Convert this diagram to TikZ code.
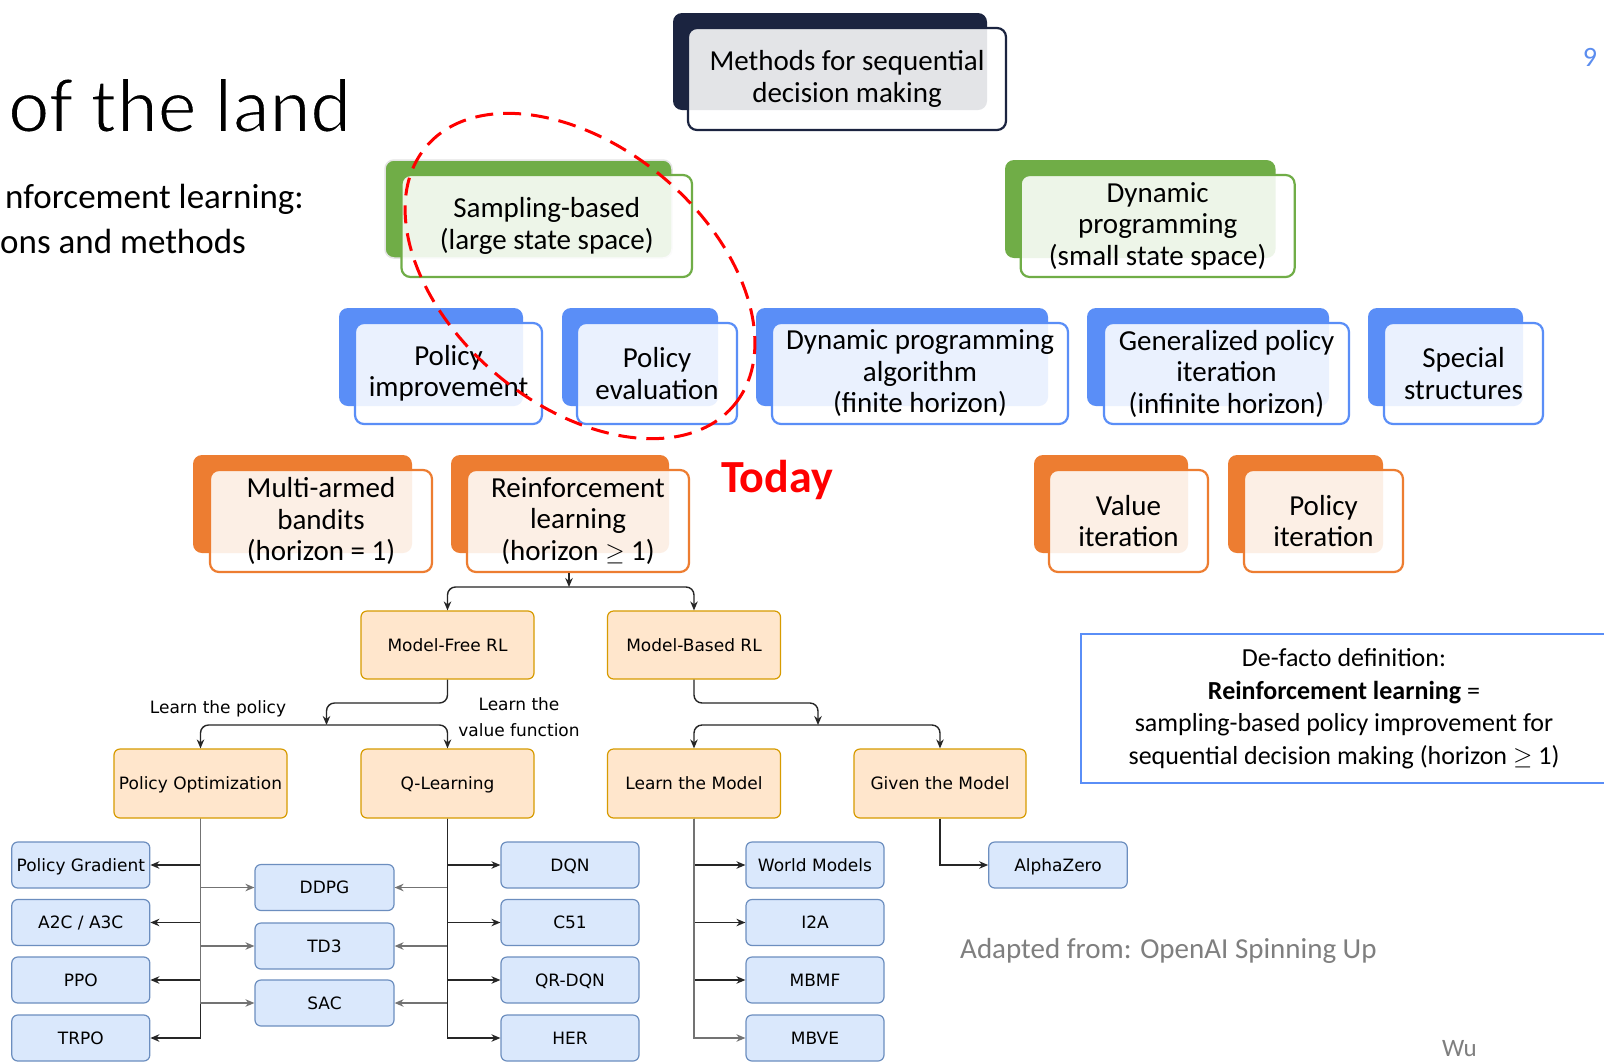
\documentclass[tikz,border=0pt]{standalone}
\usepackage{fontspec}
\setmainfont{Carlito}
\newfontfamily\dio{DejaVu Sans}
\usetikzlibrary{arrows.meta,backgrounds}
\definecolor{navy}{HTML}{1B2440}
\definecolor{sgreen}{HTML}{70AD47}
\definecolor{sblue}{HTML}{5A8EF7}
\definecolor{sorange}{HTML}{ED7D31}
\definecolor{dioOrF}{HTML}{FFE6CC}
\definecolor{dioOrD}{HTML}{D79B00}
\definecolor{dioBlF}{HTML}{DAE8FC}
\definecolor{dioBlD}{HTML}{6C8EBF}
\definecolor{greytxt}{HTML}{7F7F7F}
\definecolor{ninecol}{HTML}{5B8DEF}
\definecolor{todayred}{HTML}{FF0000}
\definecolor{glow}{HTML}{E4E4E4}
\begin{document}
\begin{tikzpicture}[x=1pt,y=-1pt,
  sz/.style 2 args={minimum width=#1pt, minimum height=#2pt},
  back/.style={rectangle, rounded corners=9pt, fill=#1, draw=none, inner sep=0pt},
  front/.style={rectangle, rounded corners=9pt, draw=#1, line width=2.2pt, fill=white,
    fill opacity=0.88, text opacity=1, align=center, inner sep=0pt,
    font=\fontsize{29}{31.5}\selectfont},
  conn/.style={line width=2.2pt, draw=#1},
  dbox/.style={rectangle, rounded corners=6pt, draw=dioOrD, fill=dioOrF, line width=1.2pt,
    minimum width=173pt, minimum height=68pt, inner sep=0pt, text height=12.4pt, text depth=0pt,
    font=\dio\fontsize{17}{20}\selectfont},
  bbox/.style={rectangle, rounded corners=6pt, draw=dioBlD, fill=dioBlF, line width=1.2pt,
    minimum width=138pt, minimum height=46pt, inner sep=0pt, text height=12.4pt, text depth=0pt,
    font=\dio\fontsize{17}{20}\selectfont},
  lbl/.style={inner sep=0pt, align=center, font=\dio\fontsize{17}{26}\selectfont},
  arr/.style={-{Stealth[length=9pt,width=7.5pt]}, line width=1.4pt, draw=black!85, rounded corners=8pt},
  sarr/.style={-{Stealth[length=9pt,width=7.5pt]}, line width=1.4pt, draw=black!85},
  garr/.style={sarr, draw=black!55},
  txt/.style={inner sep=0pt}
]
\useasboundingbox (0,0) rectangle (1604,1061);
\clip (0,0) rectangle (1604,1061);
\fill[white] (0,0) rectangle (1604,1061);

% ---- slide texts ----
\node[txt, anchor=base west, font=\fontsize{78}{90}\selectfont] (title) at (8,132)
  {\special{pdf:literal direct 2 Tr 1.8 w 1 1 1 RG}of the land};
\node[txt, anchor=base east, font=\fontsize{35}{42}\selectfont] (sub1) at (304,208) {nforcement learning:};
\node[txt, anchor=base west, font=\fontsize{35}{42}\selectfont] (sub2) at (0,253) {ons and methods};
\node[txt, text=ninecol, font=\fontsize{28}{32}\selectfont] (nine) at (1590,57) {9};

% ---- SmartArt hierarchy ----
\node[back=navy, sz={314}{97}] (topB) at (830,61.5) {};
\node[front=navy, sz={318}{102}] (topF) at (847,79) {Methods for sequential\\decision making};

\node[back=sgreen, sz={287}{98}, draw=glow, line width=1.5pt] (sbB) at (528.5,209) {};
\node[front=sgreen, sz={290.5}{102}] (sbF) at (546.75,226) {Sampling-based\\(large state space)};
\node[back=sgreen, sz={270.5}{98}] (dpB) at (1140.25,209) {};
\node[front=sgreen, sz={274}{102}] (dpF) at (1157.65,226) {Dynamic\\programming\\(small state space)};

\node[back=sblue, sz={184}{98}] (piB) at (431,357) {};
\node[front=sblue, sz={187}{101}] (piF) at (448.5,373.5) {Policy\\improvement};
\node[back=sblue, sz={156}{98}] (peB) at (640,357) {};
\node[front=sblue, sz={160}{101}] (peF) at (657,373.5) {Policy\\evaluation};
\node[back=sblue, sz={292}{98}] (daB) at (902,357) {};
\node[front=sblue, sz={296}{101}] (daF) at (920,373.5) {Dynamic programming\\algorithm\\(finite horizon)};
\node[back=sblue, sz={242}{98}] (gpB) at (1208,357) {};
\node[front=sblue, sz={245}{101}] (gpF) at (1226.5,373.5) {Generalized policy\\iteration\\(infinite horizon)};
\node[back=sblue, sz={155}{98}] (ssB) at (1445.5,357) {};
\node[front=sblue, sz={159}{101}] (ssF) at (1463.5,373.5) {Special\\structures};

\node[back=sorange, sz={219}{98}] (mbB) at (302.5,504) {};
\node[front=sorange, sz={222}{102}] (mbF) at (321,521) {Multi-armed\\bandits\\(horizon = 1)};
\node[back=sorange, sz={218}{98}] (rlB) at (560,504) {};
\node[front=sorange, sz={222}{102}] (rlF) at (578,521) {Reinforcement\\learning\\(horizon $\geq$ 1)};
\node[back=sorange, sz={154}{98}] (viB) at (1111,504) {};
\node[front=sorange, sz={159}{102}] (viF) at (1128.5,521) {Value\\iteration};
\node[back=sorange, sz={155}{98}] (ptB) at (1305.5,504) {};
\node[front=sorange, sz={159}{102}] (ptF) at (1323.5,521) {Policy\\iteration};

\node[txt, anchor=base, text=todayred, font=\bfseries\fontsize{46}{52}\selectfont] (today) at (777,492) {Today};

\draw[todayred, line width=3pt, dash pattern=on 18pt off 10pt, rotate around={-40:(580,276)}]
  (580,276) ellipse [x radius=201pt, y radius=129pt];

\begin{pgfonlayer}{background}
\coordinate (jG) at (830,143);
\draw[conn=sgreen] (topB.south) -- (jG);
\draw[conn=sgreen] (sbB.north) -- (sbB.north |- jG) -| (dpB.north);
\coordinate (jB1) at (528.5,292);
\draw[conn=sblue] (sbB.south) -- (jB1);
\draw[conn=sblue] (piB.north) -- (piB.north |- jB1) -| (peB.north);
\coordinate (jB2) at (1140.25,292);
\draw[conn=sblue] (dpB.south) -- (jB2);
\draw[conn=sblue] (daB.north) -- (daB.north |- jB2) -| (ssB.north);
\draw[conn=sblue] (gpB.north) -- (gpB.north |- jB2);
\coordinate (jO1) at (431,438);
\draw[conn=sorange] (piB.south) -- (jO1);
\draw[conn=sorange] (mbB.north) -- (mbB.north |- jO1) -| (rlB.north);
\coordinate (jO2) at (1208,438);
\draw[conn=sorange] (gpB.south) -- (jO2);
\draw[conn=sorange] (viB.north) -- (viB.north |- jO2) -| (ptB.north);
\end{pgfonlayer}

% ---- draw.io part ----
\node[dbox] (mf) at (447.5,645) {Model-Free RL};
\node[dbox] (mbr) at (694,645) {Model-Based RL};
\node[dbox, minimum height=69pt] (po) at (200.5,783.5) {Policy Optimization};
\node[dbox, minimum height=69pt] (ql) at (447.5,783.5) {Q-Learning};
\node[dbox, minimum height=69pt] (lm) at (694,783.5) {Learn the Model};
\node[dbox, minimum height=69pt, minimum width=172pt] (gm) at (940,783.5) {Given the Model};

\coordinate (j1) at (569,587);
\draw[sarr] (j1 |- rlF.south) -- (j1);
\draw[arr] (j1) -| (mf.north);
\draw[arr] (j1) -| (mbr.north);

\coordinate (b2) at (326.5,703);
\coordinate (j2) at (326.5,725);
\draw[arr] (mf.south) |- (b2) -- (j2);
\draw[arr] (j2) -| (po.north);
\draw[arr] (j2) -| (ql.north);

\coordinate (b3) at (818,703);
\coordinate (j3) at (818,725);
\draw[arr] (mbr.south) |- (b3) -- (j3);
\draw[arr] (j3) -| (lm.north);
\draw[arr] (j3) -| (gm.north);

\node[lbl] (lp) at (218,709) {Learn the policy};
\node[lbl] (lv) at (519,717) {Learn the\\value function};

\node[bbox] (pg) at (80.8,865) {Policy Gradient};
\node[bbox] (a2c) at (80.8,922.5) {A2C / A3C};
\node[bbox] (ppo) at (80.8,980) {PPO};
\node[bbox] (trpo) at (80.8,1038) {TRPO};
\node[bbox, minimum width=139pt] (ddpg) at (324.5,887.5) {DDPG};
\node[bbox, minimum width=139pt] (td3) at (324.5,946) {TD3};
\node[bbox, minimum width=139pt] (sac) at (324.5,1003) {SAC};
\node[bbox] (dqn) at (570,865) {DQN};
\node[bbox] (c51) at (570,922.5) {C51};
\node[bbox] (qr) at (570,980) {QR-DQN};
\node[bbox] (her) at (570,1038) {HER};
\node[bbox] (wm) at (815,865) {World Models};
\node[bbox] (i2a) at (815,922.5) {I2A};
\node[bbox] (mbmf) at (815,980) {MBMF};
\node[bbox] (mbve) at (815,1038) {MBVE};
\node[bbox, minimum width=138.5pt] (az) at (1058,865) {AlphaZero};

\foreach \t in {pg,a2c,ppo,trpo} \draw[sarr] (po.south) |- (\t.east);
\foreach \t in {ddpg,td3,sac} \draw[garr] (po.south) |- (\t.west);
\foreach \t in {ddpg,td3,sac} \draw[garr] (ql.south) |- (\t.east);
\foreach \t in {dqn,c51,qr,her} \draw[sarr] (ql.south) |- (\t.west);
\foreach \t in {wm,i2a,mbmf} \draw[sarr] (lm.south) |- (\t.west);
\draw[garr] (lm.south) |- (mbve.west);
\draw[sarr] (gm.south) |- (az.west);

% ---- definition box and credits ----
\node[rectangle, draw=sblue, line width=2pt, sz={526}{149}, align=center, inner sep=0pt,
  font=\fontsize{26}{32.5}\selectfont] (defbox) at (1344,708.5)
  {De-facto definition:\\\textbf{Reinforcement learning} =\\sampling-based policy improvement for\\sequential decision making (horizon $\geq$ 1)};
\node[txt, anchor=base west, text=greytxt, font=\fontsize{29}{33}\selectfont] (adapt) at (960,958) {Adapted from: OpenAI Spinning Up};
\node[txt, anchor=base west, text=greytxt, font=\fontsize{25}{30}\selectfont] (wu) at (1442,1056) {Wu};
\end{tikzpicture}
\end{document}
